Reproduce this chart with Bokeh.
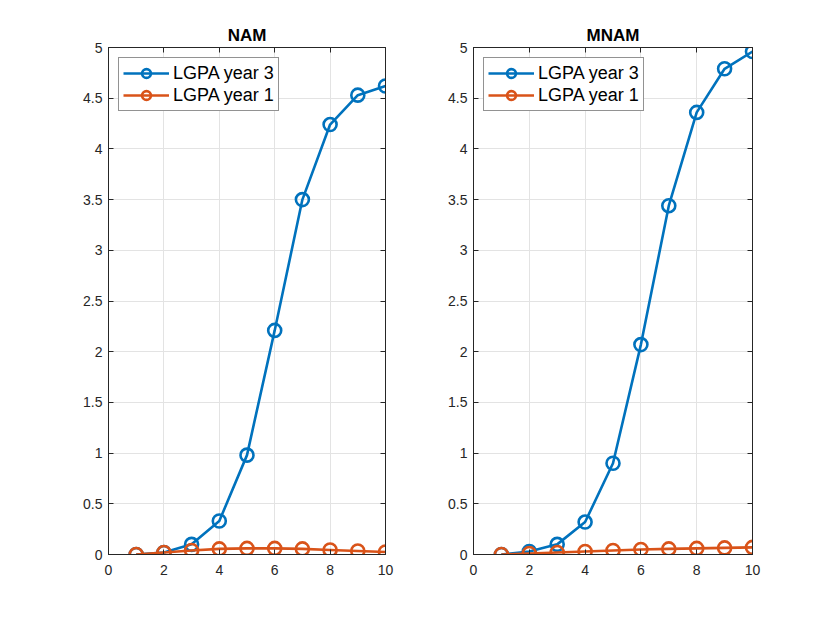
from bokeh.plotting import figure
from bokeh.layouts import row
from bokeh.models import Range1d, LinearAxis, FixedTicker, NumeralTickFormatter
from bokeh.embed import file_html
from bokeh.resources import INLINE

x = [1, 2, 3, 4, 5, 6, 7, 8, 9, 10]
nam_year3 = [0.0, 0.02, 0.10, 0.33, 0.98, 2.21, 3.50, 4.24, 4.53, 4.62]
nam_year1 = [0.0, 0.02, 0.04, 0.055, 0.06, 0.06, 0.055, 0.045, 0.035, 0.025]
mnam_year3 = [0.0, 0.03, 0.10, 0.32, 0.90, 2.07, 3.44, 4.36, 4.79, 4.96]
mnam_year1 = [0.0, 0.01, 0.02, 0.03, 0.04, 0.05, 0.055, 0.06, 0.065, 0.07]
titles = ["NAM", "MNAM"]
series_labels = ["LGPA year 3", "LGPA year 1"]
x_ticks = [0, 2, 4, 6, 8, 10]
y_ticks = [0, 0.5, 1, 1.5, 2, 2.5, 3, 3.5, 4, 4.5, 5]

BLUE = "#0072BD"
ORANGE = "#D95319"
AX = "#262626"
FONT = "Liberation Sans"


def box_axis(ticks):
    return LinearAxis(ticker=FixedTicker(ticks=ticks), major_tick_in=5,
                      major_tick_out=0, minor_tick_line_color=None,
                      major_label_overrides={t: "" for t in ticks},
                      axis_line_color=AX, major_tick_line_color=AX,
                      major_label_standoff=0)


def make(title, y3, y1, left, fw, right):
    p = figure(frame_width=fw, frame_height=507, min_border_left=left,
               min_border_right=right, min_border_top=47, min_border_bottom=50,
               x_range=Range1d(0, 10), y_range=Range1d(0, 5),
               output_backend="svg", toolbar_location=None, title=title)
    p.title.align = "center"
    p.title.text_font = FONT
    p.title.text_font_size = "17px"
    p.title.text_font_style = "bold"
    p.title.text_color = "black"
    p.title.standoff = 5
    p.outline_line_color = AX
    p.outline_line_width = 1
    p.outline_line_alpha = 1
    p.background_fill_color = "white"
    p.border_fill_color = "white"

    p.xaxis.ticker = FixedTicker(ticks=x_ticks)
    p.yaxis.ticker = FixedTicker(ticks=y_ticks)
    p.yaxis.formatter = NumeralTickFormatter(format="0.[0]")
    for ax in (p.xaxis[0], p.yaxis[0]):
        ax.major_tick_in = 5
        ax.major_tick_out = 0
        ax.minor_tick_line_color = None
        ax.axis_line_color = AX
        ax.major_tick_line_color = AX
        ax.major_label_text_font = FONT
        ax.major_label_text_font_size = "14px"
        ax.major_label_text_color = AX
    p.xaxis.major_label_standoff = 10
    p.yaxis.major_label_standoff = 6

    p.add_layout(box_axis(x_ticks), "above")
    p.add_layout(box_axis(y_ticks), "right")

    p.xgrid.ticker = FixedTicker(ticks=x_ticks)
    p.ygrid.ticker = FixedTicker(ticks=y_ticks)
    p.grid.grid_line_color = "#e3e3e3"
    p.grid.grid_line_width = 1

    for ys, col, lab in ((y3, BLUE, series_labels[0]), (y1, ORANGE, series_labels[1])):
        p.line(x, ys, line_color=col, line_width=2.6, legend_label=lab)
        p.scatter(x, ys, marker="circle", size=13, line_color=col,
                  line_width=2.6, fill_color=None, legend_label=lab)

    lg = p.legend[0]
    lg.location = "top_left"
    lg.margin = 10
    lg.padding = 4
    lg.spacing = 0
    lg.border_line_color = AX
    lg.border_line_width = 1
    lg.background_fill_color = "white"
    lg.background_fill_alpha = 1
    lg.label_text_font = FONT
    lg.label_text_font_size = "18px"
    lg.label_text_color = "black"
    lg.glyph_width = 46
    lg.glyph_height = 22
    lg.label_height = 22
    lg.label_standoff = 4
    lg.item_background_fill_alpha = 0
    return p


p1 = make(titles[0], nam_year3, nam_year1, 108, 277, 45)
p2 = make(titles[1], mnam_year3, mnam_year1, 43, 279, 62)
layout = row(p1, p2)

open("out.html", "w").write(file_html(layout, INLINE))
